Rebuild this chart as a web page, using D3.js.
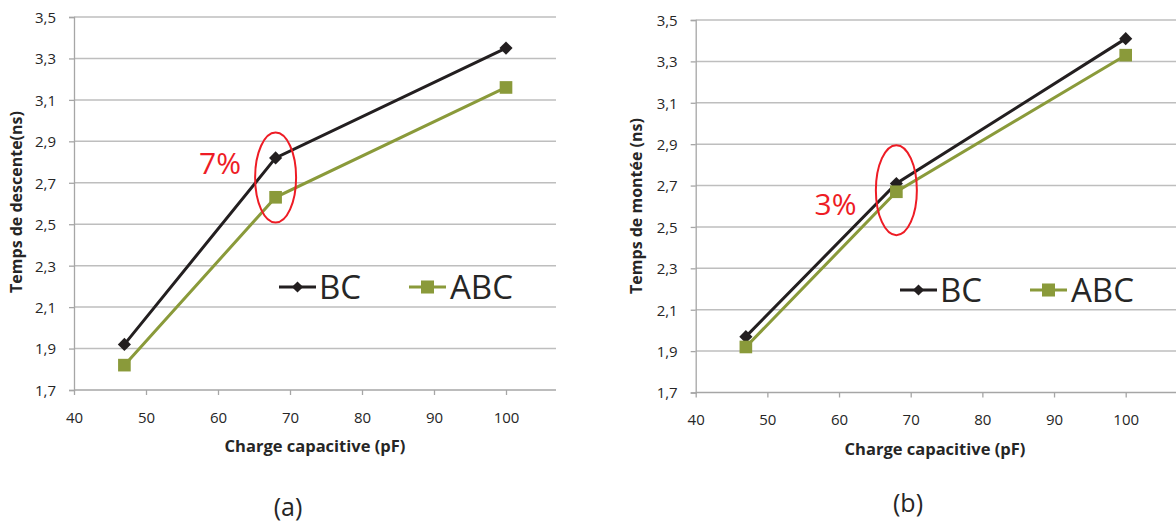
<!DOCTYPE html>
<html>
<head>
<meta charset="utf-8">
<script src="https://cdn.jsdelivr.net/npm/d3@7"></script>
<style>
  html, body { margin: 0; padding: 0; background: #fff; }
  svg { display: block; }
  text { font-family: "Open Sans", "Noto Sans", sans-serif; fill: #262626; }
</style>
</head>
<body>
<svg id="chart" width="1176" height="522"></svg>
<script>
// ---- data ----
const capacitance = [47, 68, 100];
const seriesNames = ["BC", "ABC"];
const descentBC  = [1.92, 2.82, 3.35];
const descentABC = [1.82, 2.63, 3.16];
const riseBC     = [1.97, 2.71, 3.41];
const riseABC    = [1.92, 2.67, 3.33];
const xTicks = [40, 50, 60, 70, 80, 90, 100];
const xTickLabels = ["40", "50", "60", "70", "80", "90", "100"];
const yTicks = [1.7, 1.9, 2.1, 2.3, 2.5, 2.7, 2.9, 3.1, 3.3, 3.5];
const yTickLabels = ["1,7", "1,9", "2,1", "2,3", "2,5", "2,7", "2,9", "3,1", "3,3", "3,5"];
const xTitle = "Charge capacitive (pF)";
const yTitleA = "Temps de descente(ns)";
const yTitleB = "Temps de montée (ns)";
const annotA = "7%";
const annotB = "3%";
const panelLabels = ["(a)", "(b)"];

const colors = { BC: "#231f20", ABC: "#8a9a3a" };
const svg = d3.select("#chart");

function panel(cfg) {
  const g = svg.append("g");
  const x = d3.scaleLinear().domain([40, 100]).range([cfg.x0, cfg.x100]);
  const y = d3.scaleLinear().domain([1.7, 3.5]).range([cfg.y0, cfg.y1]);
  const xEnd = cfg.xEnd;

  // gridlines
  g.append("g").selectAll("line").data(yTicks.slice(1)).join("line")
    .attr("x1", x(40)).attr("x2", xEnd)
    .attr("y1", d => y(d)).attr("y2", d => y(d))
    .attr("stroke", "#bebebe").attr("stroke-width", 1.5);

  // y axis
  const yAxis = d3.axisLeft(y).tickValues(yTicks)
    .tickFormat((d, i) => yTickLabels[i]).tickSize(5).tickPadding(13);
  const ya = g.append("g").attr("transform", `translate(${x(40)},0)`).call(yAxis);
  ya.select(".domain").attr("stroke", "#a6a6a6").attr("stroke-width", 1.3);
  ya.selectAll(".tick line").attr("stroke", "#a6a6a6").attr("stroke-width", 1.3);
  ya.selectAll(".tick text").attr("font-size", 15).attr("fill", "#262626")
    .attr("font-family", "'Open Sans', sans-serif").attr("dy", "0.36em");

  // x axis (domain line extended to plot edge)
  const xAxis = d3.axisBottom(x).tickValues(xTicks)
    .tickFormat((d, i) => xTickLabels[i]).tickSize(5).tickSizeOuter(0).tickPadding(17);
  const xa = g.append("g").attr("transform", `translate(0,${y(1.7)})`).call(xAxis);
  xa.select(".domain").attr("d", `M${x(40)},0H${xEnd}`)
    .attr("stroke", "#a6a6a6").attr("stroke-width", 1.3);
  xa.selectAll(".tick line").attr("stroke", "#a6a6a6").attr("stroke-width", 1.3);
  xa.selectAll(".tick text").attr("font-size", 15).attr("fill", "#262626")
    .attr("font-family", "'Open Sans', sans-serif");

  // axis titles
  g.append("text").attr("x", cfg.xTitleX).attr("y", y(1.7) + 62)
    .attr("text-anchor", "middle").attr("font-size", 16.5).attr("font-weight", "bold")
    .text(xTitle);
  g.append("text")
    .attr("transform", `translate(${cfg.yTitleX},${cfg.yTitleY}) rotate(-90)`)
    .attr("text-anchor", "middle").attr("font-size", 16).attr("font-weight", "bold")
    .text(cfg.yTitle);

  // series
  const line = d3.line().x((d, i) => x(capacitance[i])).y(d => y(d));
  const series = [
    { name: "BC", values: cfg.bc },
    { name: "ABC", values: cfg.abc }
  ];
  series.forEach(s => {
    g.append("path").datum(s.values).attr("d", line)
      .attr("fill", "none").attr("stroke", colors[s.name]).attr("stroke-width", 3);
  });
  series.forEach(s => {
    const mk = g.append("g").selectAll("path").data(s.values).join("path")
      .attr("transform", (d, i) => `translate(${x(capacitance[i])},${y(d)})`)
      .attr("fill", colors[s.name]);
    if (s.name === "BC") {
      mk.attr("d", d3.symbol(d3.symbolDiamond2, 110));
    } else {
      mk.attr("d", d3.symbol(d3.symbolSquare, 160));
    }
  });

  // annotation ellipse + label
  const ex = x(capacitance[1]);
  const ey = (y(cfg.bc[1]) + y(cfg.abc[1])) / 2 + cfg.ellipseDy;
  g.append("ellipse").attr("cx", ex).attr("cy", ey).attr("rx", 20.5).attr("ry", 45)
    .attr("fill", "none").attr("stroke", "#ee1c25").attr("stroke-width", 2);
  g.append("text").attr("x", cfg.annX).attr("y", cfg.annY)
    .attr("text-anchor", "middle").attr("font-size", 30).style("fill", "#ee1c25")
    .text(cfg.annot);

  // legend
  const ly = cfg.legY;
  const l1 = cfg.legX;
  g.append("line").attr("x1", l1).attr("x2", l1 + 37).attr("y1", ly).attr("y2", ly)
    .attr("stroke", colors.BC).attr("stroke-width", 3);
  g.append("path").attr("d", d3.symbol(d3.symbolDiamond2, 80))
    .attr("transform", `translate(${l1 + 18.5},${ly})`).attr("fill", colors.BC);
  g.append("text").attr("x", l1 + 40).attr("y", ly + 12).attr("font-size", 33)
    .text(seriesNames[0]);
  const l2 = l1 + 130;
  g.append("line").attr("x1", l2).attr("x2", l2 + 37).attr("y1", ly).attr("y2", ly)
    .attr("stroke", colors.ABC).attr("stroke-width", 3);
  g.append("path").attr("d", d3.symbol(d3.symbolSquare, 170))
    .attr("transform", `translate(${l2 + 18.5},${ly})`).attr("fill", colors.ABC);
  g.append("text").attr("x", l2 + 41).attr("y", ly + 12).attr("font-size", 33)
    .text(seriesNames[1]);

  // panel label
  g.append("text").attr("x", cfg.labelX).attr("y", cfg.labelY)
    .attr("text-anchor", "middle").attr("font-size", 25).text(cfg.label);
}

panel({ x0: 74, x100: 506, xEnd: 556, y0: 390, y1: 17, bc: descentBC, abc: descentABC,
  xTitleX: 315, yTitleX: 22, yTitleY: 202, yTitle: yTitleA,
  annot: annotA, annX: 220, annY: 174, ellipseDy: 0,
  legX: 279, legY: 287, labelX: 288, labelY: 516, label: panelLabels[0] });

panel({ x0: 695.7, x100: 1125.7, xEnd: 1176, y0: 392.5, y1: 20, bc: riseBC, abc: riseABC,
  xTitleX: 935, yTitleX: 642, yTitleY: 206, yTitle: yTitleB,
  annot: annotB, annX: 835.5, annY: 215, ellipseDy: 2.5,
  legX: 900, legY: 290, labelX: 908, labelY: 512, label: panelLabels[1] });
</script>
</body>
</html>
